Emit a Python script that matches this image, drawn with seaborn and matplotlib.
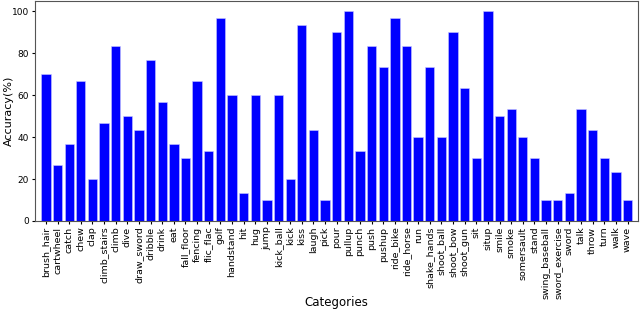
import numpy as np
import pandas as pd
import matplotlib
matplotlib.use('Agg')
import matplotlib.pyplot as plt
import seaborn as sns

plt.style.use('default')

categories = ['brush_hair', 'cartwheel', 'catch', 'chew', 'clap', 'climb_stairs', 'climb',
              'dive', 'draw_sword', 'dribble', 'drink', 'eat', 'fall_floor', 'fencing',
              'flic_flac', 'golf', 'handstand', 'hit', 'hug', 'jump', 'kick_ball', 'kick',
              'kiss', 'laugh', 'pick', 'pour', 'pullup', 'punch', 'push', 'pushup',
              'ride_bike', 'ride_horse', 'run', 'shake_hands', 'shoot_ball', 'shoot_bow',
              'shoot_gun', 'sit', 'situp', 'smile', 'smoke', 'somersault', 'stand',
              'swing_baseball', 'sword_exercise', 'sword', 'talk', 'throw', 'turn', 'walk',
              'wave']
accuracy = [70.0, 26.67, 36.67, 66.67, 20.0, 46.67, 83.33, 50.0, 43.33, 76.67,
            56.67, 36.67, 30.0, 66.67, 33.33, 96.67, 60.0, 13.33, 60.0, 10.0,
            60.0, 20.0, 93.33, 43.33, 10.0, 90.0, 100.0, 33.33, 83.33, 73.33,
            96.67, 83.33, 40.0, 73.33, 40.0, 90.0, 63.33, 30.0, 100.0, 50.0,
            53.33, 40.0, 30.0, 10.0, 10.0, 13.33, 53.33, 43.33, 30.0, 23.33,
            10.0]

df = pd.DataFrame({'Category': categories, 'Accuracy': accuracy})

fig = plt.figure(figsize=(6.4, 3.11), dpi=100)
ax = fig.add_axes([34.5 / 640, 1 - 221 / 311, (638 - 34.5) / 640, 220 / 311])

sns.barplot(data=df, x='Category', y='Accuracy', color='blue', saturation=1,
            width=0.8, ax=ax, edgecolor='#c8c8ff', linewidth=0.4)

ax.set_xlim(-0.98, 50.9)
ax.set_ylim(0, 105)
ax.set_yticks([0, 20, 40, 60, 80, 100])
ax.tick_params(axis='x', labelrotation=90, labelsize=6.8, length=2.5, pad=1.5)
ax.tick_params(axis='y', labelsize=6.5, length=2.5, pad=1.5)
ax.set_xlabel('Categories', fontsize=8.5)
ax.set_ylabel('Accuracy(%)', fontsize=8)
ax.xaxis.set_label_coords(0.5, -0.34)
ax.yaxis.set_label_coords(-0.034, 0.5)
for s in ax.spines.values():
    s.set_color('#555555')

fig.savefig('out.png', dpi=100)
